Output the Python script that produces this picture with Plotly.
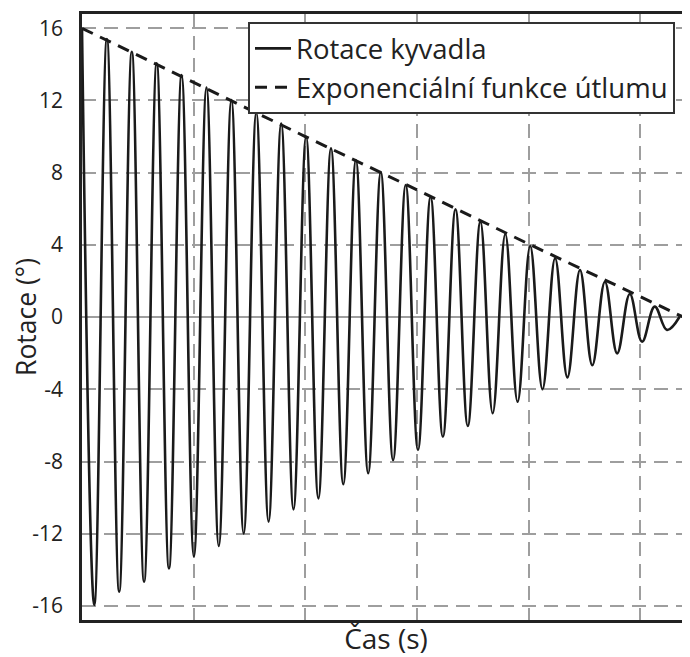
import plotly.graph_objects as go

# Extremes of the pendulum rotation (time in s, rotation in deg)
peak_t = [0.00, 2.23, 4.46, 6.69, 8.92, 11.15, 13.38, 15.61, 17.84, 20.07, 22.30, 24.53,
          26.76, 28.99, 31.22, 33.45, 35.68, 37.91, 40.14, 42.37, 44.60, 46.83, 49.06,
          51.29, 53.52]
peak_v = [16.0, 15.40, 14.70, 14.06, 13.41, 12.71, 12.03, 11.32, 10.72, 9.99, 9.35, 8.70,
          8.03, 7.32, 6.67, 5.97, 5.29, 4.60, 3.94, 3.26, 2.61, 1.96, 1.28, 0.58, 0.02]
trough_t = [1.10, 3.33, 5.56, 7.79, 10.02, 12.25, 14.48, 16.71, 18.94, 21.17, 23.40,
            25.63, 27.86, 30.09, 32.32, 34.55, 36.78, 39.01, 41.24, 43.47, 45.70, 47.93,
            50.16, 52.39]
trough_v = [-15.95, -15.21, -14.66, -13.92, -13.27, -12.68, -11.98, -11.33, -10.65,
            -10.04, -9.26, -8.65, -7.92, -7.36, -6.63, -6.03, -5.33, -4.69, -4.00, -3.34,
            -2.67, -2.01, -1.36, -0.71]

# Damping envelope
env_t = [0, 10, 20, 30, 40, 50, 54.2]
env_v = [16.0, 13.0, 10.0, 7.05, 4.05, 1.13, -0.10]

y_ticks = [16, 12, 8, 4, 0, -4, -8, -12, -16]
y_ticktext = ["16", "12", "8", "4", "0", "-4", "-8", "-12", "-16"]

# interleave extremes in time order
pts = sorted(list(zip(peak_t, peak_v)) + list(zip(trough_t, trough_v)))
osc_t = [p[0] for p in pts]
osc_v = [p[1] for p in pts]

FONT = "Open Sans"
TXT = "#222222"
# the page body has an 8px margin, so the figure sits at (8, 8) in the window
W, H = 682, 649
L, T, R, B = 74, 6, 0, 37
PW, PH = W - L - R, H - T - B

fig = go.Figure()
fig.add_trace(go.Scatter(
    x=osc_t, y=osc_v, mode="lines", name="Rotace kyvadla",
    line=dict(color="#1a1a1a", width=2.6, shape="spline", smoothing=1.1),
))
fig.add_trace(go.Scatter(
    x=env_t, y=env_v, mode="lines", name="Exponenciální funkce útlumu",
    line=dict(color="#1a1a1a", width=3, dash="12px,8px"),
))

fig.update_layout(
    width=W, height=H,
    margin=dict(l=L, r=R, t=T, b=B),
    paper_bgcolor="white", plot_bgcolor="white",
    font=dict(family=FONT, color=TXT),
    showlegend=True,
    legend=dict(
        x=(248 - 82) / PW, y=1 - (22 - 14) / PH, xanchor="left", yanchor="top",
        bgcolor="white", bordercolor="#333333", borderwidth=2, itemwidth=36,
        font=dict(size=27.5, family=FONT, color=TXT),
    ),
)
fig.update_xaxes(
    range=[0, 54.45], dtick=10, tick0=0, automargin=False,
    showgrid=True, gridcolor="#9e9e9e", gridwidth=1.5, griddash="14px,8px",
    zeroline=False, showticklabels=False, ticks="",
    showline=True, linecolor="#222222", linewidth=2.5, mirror=True,
    title=dict(text="Čas (s)", font=dict(size=28, family=FONT, color=TXT), standoff=9),
)
fig.update_yaxes(
    range=[-16.78, 16.79], tickvals=y_ticks, ticktext=y_ticktext, automargin=False,
    showgrid=True, gridcolor="#9e9e9e", gridwidth=1.5, griddash="14px,8px",
    zeroline=True, zerolinecolor="#9e9e9e", zerolinewidth=1.5,
    ticks="", ticklabelstandoff=12,
    tickfont=dict(size=21, family=FONT, color=TXT),
    showline=True, linecolor="#222222", linewidth=2.5, mirror=False,
    title=dict(text="Rotace (°)", font=dict(size=26.5, family=FONT, color=TXT), standoff=11),
)

fig.write_html("out.html")
